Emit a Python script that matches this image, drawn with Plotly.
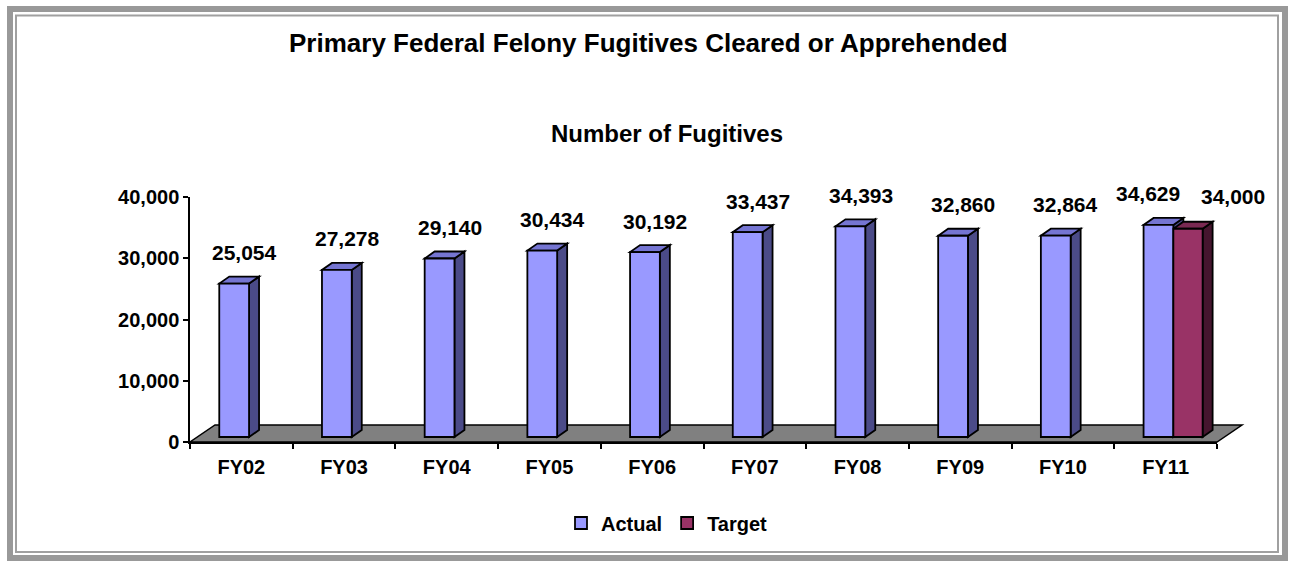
import plotly.graph_objects as go

# ---- data ----
categories = ["FY02", "FY03", "FY04", "FY05", "FY06", "FY07", "FY08", "FY09", "FY10", "FY11"]
actual = [25054, 27278, 29140, 30434, 30192, 33437, 34393, 32860, 32864, 34629]
target = [None, None, None, None, None, None, None, None, None, 34000]
y_ticks = [0, 10000, 20000, 30000, 40000]

title_text = "Primary Federal Felony Fugitives Cleared or Apprehended"
subtitle_text = "Number of Fugitives"

# ---- layout geometry (pixels) ----
W, H = 1291, 562
L, R, T, B = 190, 1217, 197, 442
YMAX = 40000
PX_PER_CAT = (R - L) / len(categories)
UNITS_PER_PX = YMAX / (B - T)

def fx(px):
    return (px - L) / (R - L)

def fy(py):
    return (B - py) / (B - T)

BASE = 5 * UNITS_PER_PX          # bars stand slightly back on the floor
DEPTH_DX = 10 / PX_PER_CAT        # bar depth (category units)
DEPTH_DY = 7 * UNITS_PER_PX       # bar depth (value units)

A_OFF, A_W = -0.215, 0.29
T_OFF, T_W = 0.075, 0.285

FONT = "Liberation Sans, Arial, sans-serif"
A_FRONT, A_SIDE, A_TOP = "#9999FF", "#4B4B88", "#7575D2"
T_FRONT, T_SIDE, T_TOP = "#993366", "#45152E", "#7A2952"

fig = go.Figure()
fig.add_trace(go.Bar(
    x=categories, y=actual, base=BASE, name="Actual",
    offset=A_OFF, width=A_W,
    marker=dict(color=A_FRONT, line=dict(color="black", width=1.8)),
))
fig.add_trace(go.Bar(
    x=categories, y=target, base=BASE, name="Target",
    offset=T_OFF, width=T_W,
    marker=dict(color=T_FRONT, line=dict(color="black", width=1.8)),
))

shapes = []

# floor
fl = [(L, B), (R, B), (R + 25, B - 17), (L + 25, B - 17)]
shapes.append(dict(
    type="path", xref="paper", yref="paper", layer="below",
    path="M " + " L ".join(f"{fx(px)},{fy(py)}" for px, py in fl) + " Z",
    fillcolor="#808080", line=dict(color="black", width=1.5),
))

def faces(i, v, off, w, side_c, top_c):
    x0 = i + off
    x1 = x0 + w
    b = BASE
    t = BASE + v
    side = [(x1, b), (x1, t), (x1 + DEPTH_DX, t + DEPTH_DY), (x1 + DEPTH_DX, b + DEPTH_DY)]
    top = [(x0, t), (x1, t), (x1 + DEPTH_DX, t + DEPTH_DY), (x0 + DEPTH_DX, t + DEPTH_DY)]
    out = []
    for pts, c in ((side, side_c), (top, top_c)):
        out.append(dict(
            type="path", xref="x", yref="y", layer="below",
            path="M " + " L ".join(f"{px},{py}" for px, py in pts) + " Z",
            fillcolor=c, line=dict(color="black", width=1.8),
        ))
    return out

for i, v in enumerate(actual):
    if v is not None:
        shapes += faces(i, v, A_OFF, A_W, A_SIDE, A_TOP)
for i, v in enumerate(target):
    if v is not None:
        shapes += faces(i, v, T_OFF, T_W, T_SIDE, T_TOP)

# double frame
shapes.append(dict(type="rect", xref="paper", yref="paper", layer="above",
                   x0=fx(10), x1=fx(1285), y0=fy(9), y1=fy(558),
                   line=dict(color="#999999", width=6)))
shapes.append(dict(type="rect", xref="paper", yref="paper", layer="above",
                   x0=fx(16), x1=fx(1278), y0=fy(15.5), y1=fy(552),
                   line=dict(color="#A0A0A0", width=2)))

annotations = [
    dict(text=title_text, x=fx(648), y=fy(43), xref="paper", yref="paper",
         showarrow=False, xanchor="center", yanchor="middle",
         font=dict(family=FONT, size=26, color="black", weight="bold")),
    dict(text=subtitle_text, x=fx(667), y=fy(133), xref="paper", yref="paper",
         showarrow=False, xanchor="center", yanchor="middle",
         font=dict(family=FONT, size=24, color="black", weight="bold")),
]

for i, v in enumerate(actual):
    if v is None:
        continue
    xs = -18 if target[i] is not None else 3
    annotations.append(dict(
        text=f"{v:,}", x=categories[i], y=BASE + v, xref="x", yref="y",
        showarrow=False, xanchor="center", yanchor="middle", yshift=31, xshift=xs,
        font=dict(family=FONT, size=21, color="black", weight="bold")))
for i, v in enumerate(target):
    if v is None:
        continue
    annotations.append(dict(
        text=f"{v:,}", x=categories[i], y=BASE + v, xref="x", yref="y",
        showarrow=False, xanchor="center", yanchor="middle", yshift=32, xshift=67,
        font=dict(family=FONT, size=21, color="black", weight="bold")))

fig.update_layout(
    width=W, height=H,
    margin=dict(l=L, r=W - R, t=T, b=H - B, pad=0),
    paper_bgcolor="white", plot_bgcolor="rgba(0,0,0,0)",
    barmode="overlay",
    showlegend=True,
    legend=dict(orientation="h", x=fx(667), y=fy(523), xanchor="center", yanchor="middle",
                font=dict(family=FONT, size=20, color="black", weight="bold"),
                itemwidth=30, bgcolor="rgba(0,0,0,0)"),
    shapes=shapes,
    annotations=annotations,
    xaxis=dict(type="category", range=[-0.5, len(categories) - 0.5],
               tickson="boundaries", ticks="outside", ticklen=5, tickwidth=1.5,
               tickcolor="black", showline=True, linecolor="black", linewidth=1.5,
               showgrid=False, zeroline=False, ticklabelstandoff=6,
               tickfont=dict(family=FONT, size=20, color="black", weight="bold")),
    yaxis=dict(range=[0, YMAX], tickvals=y_ticks, tickformat=",",
               ticks="outside", ticklen=5, tickwidth=1.5, tickcolor="black",
               showline=True, linecolor="black", linewidth=1.5,
               showgrid=False, zeroline=False,
               tickfont=dict(family=FONT, size=20, color="black", weight="bold")),
)

fig.write_html("out.html",
               config={"displayModeBar": False},
               post_script="document.body.style.margin='0px';document.body.style.overflow='hidden';")
